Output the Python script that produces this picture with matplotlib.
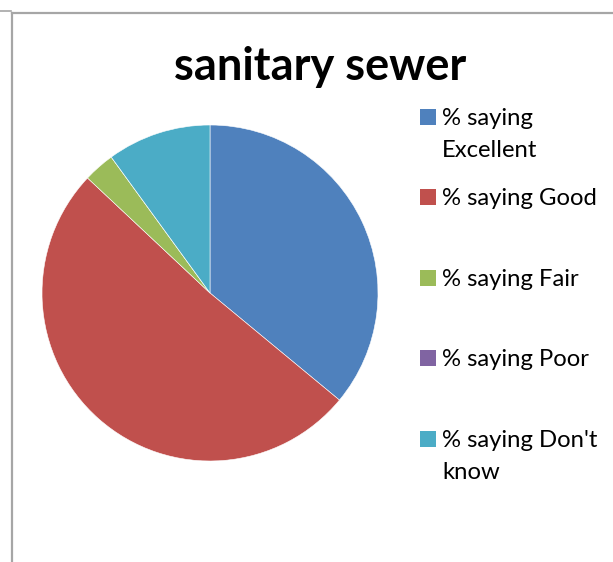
import matplotlib.pyplot as plt
from matplotlib.patches import Rectangle
from matplotlib.lines import Line2D

# Data
categories = ["% saying Excellent", "% saying Good", "% saying Fair",
              "% saying Poor", "% saying Don't know"]
legend_labels = ["% saying\nExcellent", "% saying Good", "% saying Fair",
                 "% saying Poor", "% saying Don't\nknow"]
values = [36, 51, 3, 0, 10]
colors = ["#4F81BD", "#C0504D", "#9BBB59", "#8064A2", "#4BACC6"]

W, H = 613, 562
fig = plt.figure(figsize=(W / 100, H / 100), dpi=100)
font = "Lato"

# frame of the chart area (cropped at right and bottom)
border = "#a6a6a6"
fig.add_artist(Line2D([11.5 / W, 11.5 / W], [0, 1 - 13 / H], color=border, lw=1.6))
fig.add_artist(Line2D([11.5 / W, 1], [1 - 13 / H, 1 - 13 / H], color=border, lw=1.6))
fig.add_artist(Line2D([0, 11 / W], [1 - 10.5 / H, 1 - 10.5 / H], color=border, lw=1.2))

# pie: centre (210, 293) px, radius 168 px
cx, cy, r = 210, 293, 168
ax = fig.add_axes([(cx - r) / W, (H - cy - r) / H, 2 * r / W, 2 * r / H])
ax.pie(values, colors=colors, startangle=90, counterclock=False,
       radius=1, wedgeprops=dict(edgecolor="white", linewidth=0.4))
ax.set_xlim(-1, 1)
ax.set_ylim(-1, 1)
ax.set_aspect("equal")
ax.axis("off")

fig.text(320 / W, 1 - 67 / H, "sanitary sewer", ha="center", va="center",
         fontsize=32.5, fontweight="bold", family=font)

# legend (each wrapped line placed on its own baseline)
ys = [117, 197, 277.5, 358, 439]
for lab, col, y in zip(legend_labels, colors, ys):
    fig.add_artist(Rectangle((420 / W, 1 - (y + 8) / H), 16 / W, 16 / H,
                             facecolor=col, edgecolor="none"))
    for i, line in enumerate(lab.split("\n")):
        fig.text(442 / W, 1 - (y + 8 + 32 * i) / H, line, ha="left",
                 va="baseline", fontsize=17.2, family=font)

fig.savefig("out.png", dpi=100)
